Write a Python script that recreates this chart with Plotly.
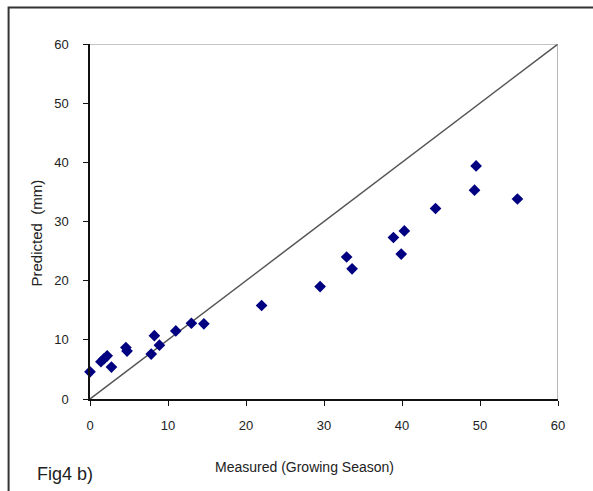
import plotly.graph_objects as go

# Data
measured = [0.0, 1.4, 1.8, 2.2, 2.75, 4.6, 4.75, 7.85, 8.25, 8.9, 11.0, 13.0, 14.6, 22.0,
            29.5, 32.9, 33.6, 38.9, 40.3, 39.9, 44.3, 49.3, 49.5, 54.8]
predicted = [4.6, 6.3, 6.8, 7.3, 5.4, 8.7, 8.1, 7.6, 10.7, 9.1, 11.5, 12.8, 12.7, 15.8,
             19.0, 24.0, 22.0, 27.3, 28.4, 24.5, 32.2, 35.3, 39.4, 33.8]
line_x = [0, 60]
line_y = [0, 60]
tick_vals = [0, 10, 20, 30, 40, 50, 60]

W, H = 593, 491
L, R, T, B = 89.5, 558, 44, 399


def px_x(p):
    return (p - L) / (R - L)


def px_y(p):
    return (B - p) / (B - T)


fig = go.Figure()
fig.add_trace(go.Scatter(x=line_x, y=line_y, mode="lines",
                         line=dict(color="#555555", width=1.5),
                         hoverinfo="skip", showlegend=False))
fig.add_trace(go.Scatter(x=measured, y=predicted, mode="markers",
                         marker=dict(symbol="diamond", size=9, color="#000080",
                                     line=dict(width=0)),
                         showlegend=False, cliponaxis=False))

font = "Liberation Sans, Arial, sans-serif"
axis_common = dict(range=[0, 60], tickvals=tick_vals, showgrid=False, zeroline=False,
                   showline=True, linecolor="#111111", linewidth=1.5,
                   ticks="outside", ticklen=5, tickwidth=1, tickcolor="#111111",
                   tickfont=dict(family=font, size=13, color="#222222"))
fig.update_xaxes(**axis_common, ticklabelstandoff=9)
fig.update_yaxes(**axis_common, ticklabelstandoff=12)

shapes = [
    # top and right border of plot area
    dict(type="line", xref="x", yref="y", x0=0, y0=60, x1=60, y1=60,
         line=dict(color="#8a8a8a", width=1.2)),
    dict(type="line", xref="x", yref="y", x0=60, y0=0, x1=60, y1=60,
         line=dict(color="#8a8a8a", width=1.2)),
    # outer frame (left and top edges visible)
    dict(type="path", xref="paper", yref="paper",
         path=f"M {px_x(8)},{px_y(500)} L {px_x(8)},{px_y(7.5)} L {px_x(600)},{px_y(7.5)}",
         line=dict(color="#333333", width=2)),
]

annotations = [
    dict(text="Measured (Growing Season)", xref="paper", yref="paper",
         x=px_x(304), y=px_y(467), showarrow=False,
         font=dict(family=font, size=14, color="#222222"),
         xanchor="center", yanchor="middle"),
    dict(text="Predicted  (mm)", xref="paper", yref="paper",
         x=px_x(36), y=px_y(233), showarrow=False, textangle=-90,
         font=dict(family=font, size=15, color="#222222"),
         xanchor="center", yanchor="middle"),
    dict(text="Fig4 b)", xref="paper", yref="paper",
         x=px_x(34), y=px_y(474), showarrow=False,
         font=dict(family=font, size=18, color="#222222"),
         xanchor="left", yanchor="middle"),
]

fig.update_layout(width=W, height=H, autosize=False,
                  margin=dict(l=L, r=W - R, t=T, b=H - B, pad=0),
                  paper_bgcolor="white", plot_bgcolor="white",
                  shapes=shapes, annotations=annotations, showlegend=False)

fig.write_html("out.html", config={"displayModeBar": False},
               post_script="document.body.style.margin='0';document.body.style.overflow='hidden';")
